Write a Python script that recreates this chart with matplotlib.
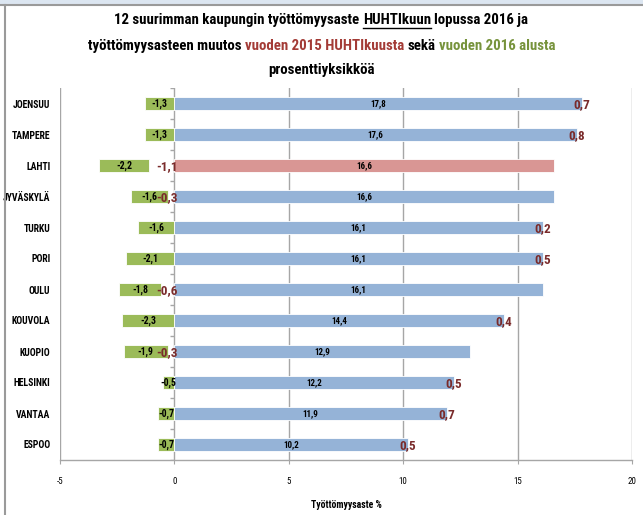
import numpy as np
import matplotlib.pyplot as plt
import matplotlib.font_manager as fm
import matplotlib.patheffects as pe

# 12 largest cities: unemployment rate end of April 2016 and changes (percentage points)
cities = ['JOENSUU', 'TAMPERE', 'LAHTI', 'JYVÄSKYLÄ', 'TURKU', 'PORI',
          'OULU', 'KOUVOLA', 'KUOPIO', 'HELSINKI', 'VANTAA', 'ESPOO']
rate_apr2016 = [17.8, 17.6, 16.6, 16.6, 16.1, 16.1, 16.1, 14.4, 12.9, 12.2, 11.9, 10.2]
chg_from_apr2015 = [0.7, 0.8, -1.1, -0.3, 0.2, 0.5, -0.6, 0.4, -0.3, 0.5, 0.7, 0.5]
chg_from_start2016 = [-1.3, -1.3, -2.2, -1.6, -1.6, -2.1, -1.8, -2.3, -1.9, -0.5, -0.7, -0.7]
highlight = 'LAHTI'
xticks = [-5, 0, 5, 10, 15, 20]

# pick a narrow font family, preferably one that has a bold face
weights = {}
for f in fm.fontManager.ttflist:
    if 'Narrow' in f.name or 'Condensed' in f.name:
        w = f.weight if isinstance(f.weight, int) else (700 if 'bold' in str(f.weight) else 400)
        weights.setdefault(f.name, set()).add(w)
bold_narrow = [n for n, ws in weights.items() if max(ws) >= 600]
pref = ['Liberation Sans Narrow', 'Roboto Condensed', 'Open Sans Condensed', 'DejaVu Sans Condensed']
bold_narrow.sort(key=lambda n: pref.index(n) if n in pref else 99)
if bold_narrow:
    FAM = [bold_narrow[0], 'DejaVu Sans']
    fake_bold = False
else:
    FAM = sorted(weights)[:1] + ['DejaVu Sans']
    fake_bold = True
plt.rcParams['font.family'] = FAM


def bold_fx(col, lw=0.5):
    if fake_bold:
        return [pe.withStroke(linewidth=lw, foreground=col)]
    return []


BLUE = '#95B3D7'
PINK = '#D99694'
GREEN = '#9BBB59'
DRED = '#7A2B2B'
TRED = '#A33B36'
TGREEN = '#77933C'
GRID = '#A6A6A6'


def fmt(v):
    return f'{v:.1f}'.replace('.', ',')


fig = plt.figure(figsize=(6.43, 5.15), dpi=100)
ax = fig.add_axes([60/643, 1-460/515, 572/643, 372/515])

y = np.arange(len(cities))
h = 0.42
cols = [PINK if c == highlight else BLUE for c in cities]
ax.barh(y, rate_apr2016, height=h, color=cols, edgecolor='white', linewidth=0.6, zorder=3)
g_left = np.minimum(chg_from_apr2015, 0)
ax.barh(y, chg_from_start2016, left=g_left, height=h, color=GREEN,
        edgecolor='white', linewidth=0.6, zorder=3)

for i in range(len(cities)):
    r = rate_apr2016[i]
    ax.text(r/2, i, fmt(r), ha='center', va='center', fontsize=6.5,
            fontweight='bold', zorder=4, path_effects=bold_fx('black', 0.4))
    gl = g_left[i]
    gv = chg_from_start2016[i]
    ax.text(gl + gv/2, i, fmt(gv), ha='center', va='center', fontsize=7,
            fontweight='bold', zorder=4, path_effects=bold_fx('black', 0.4))
    c = chg_from_apr2015[i]
    if c > 0:
        ax.text(r, i + 0.05, fmt(c), ha='center', va='center', fontsize=9.5,
                fontweight='bold', color=DRED, zorder=5, path_effects=bold_fx(DRED, 0.7))
    else:
        ax.text(0.15, i + 0.05, fmt(c), ha='right', va='center', fontsize=9.5,
                fontweight='bold', color=DRED, zorder=5, path_effects=bold_fx(DRED, 0.7))

ax.set_xlim(-5, 20)
ax.set_ylim(len(cities) - 0.5, -0.5)
ax.set_xticks(xticks)
ax.set_xticklabels([str(t) for t in xticks], fontsize=6.5)
ax.set_yticks(y)
ax.set_yticklabels(cities, fontsize=7, fontweight='bold')
for t in ax.get_yticklabels():
    t.set_path_effects(bold_fx('black', 0.5))
ax.tick_params(axis='y', length=0, pad=7)
ax.tick_params(axis='x', length=3, color=GRID, pad=9)
for t in xticks:
    ax.axvline(t, color=GRID, lw=1, zorder=1)
ax.plot(np.zeros(len(cities) + 1), np.arange(len(cities) + 1) - 0.5, marker=0,
        linestyle='none', markersize=3, color=GRID, markeredgewidth=1, zorder=2)
for s in ['top', 'right', 'left']:
    ax.spines[s].set_visible(False)
ax.spines['bottom'].set_color(GRID)
ax.spines['bottom'].set_linewidth(1)
xl = ax.set_xlabel('Työttömyysaste %', fontsize=7, fontweight='bold', labelpad=10)
xl.set_path_effects(bold_fx('black', 0.4))

# outer frame
fig.patches.append(plt.Rectangle((0, 1 - 4/515), 1, 4/515, transform=fig.transFigure,
                                 color='#DCE6F1', zorder=0))
fig.lines.append(plt.Line2D([0, 1], [1 - 5/515] * 2, transform=fig.transFigure,
                            color='#9A9A9A', lw=1.5))
fig.lines.append(plt.Line2D([5/643] * 2, [0, 1 - 5/515], transform=fig.transFigure,
                            color='#9A9A9A', lw=1.5))

# multi-coloured title
title_lines = [
    [('12 suurimman kaupungin työttömyysaste', 'black', False), ('HUHTIkuun', 'black', True),
     ('lopussa 2016 ja', 'black', False)],
    [('työttömyysasteen muutos', 'black', False), ('vuoden 2015 HUHTIkuusta', TRED, False),
     ('sekä', 'black', False), ('vuoden 2016 alusta', TGREEN, False)],
    [('prosenttiyksikköä', 'black', False)],
]
title_y = [20, 46, 70]
tsize = 10.7
renderer = fig.canvas.get_renderer()
W, H = 643, 515


def width(s):
    t = fig.text(0, 0, s, fontsize=tsize, fontweight='bold')
    w = t.get_window_extent(renderer).width
    t.remove()
    return w


space = width('x x') - width('xx')
for segs, yy in zip(title_lines, title_y):
    ws = [width(s) for s, _, _ in segs]
    total = sum(ws) + space * (len(segs) - 1)
    x = W/2 - total/2
    for (s, col, ul), w in zip(segs, ws):
        fig.text(x/W, 1 - yy/H, s, fontsize=tsize, fontweight='bold', color=col,
                 ha='left', va='center', path_effects=bold_fx(col, 0.8))
        if ul:
            fig.lines.append(plt.Line2D([x/W, (x + w)/W], [1 - (yy + 8)/H] * 2,
                                        transform=fig.transFigure, color='black', lw=1))
        x += w + space

fig.savefig('out.png', dpi=100, facecolor='white')
